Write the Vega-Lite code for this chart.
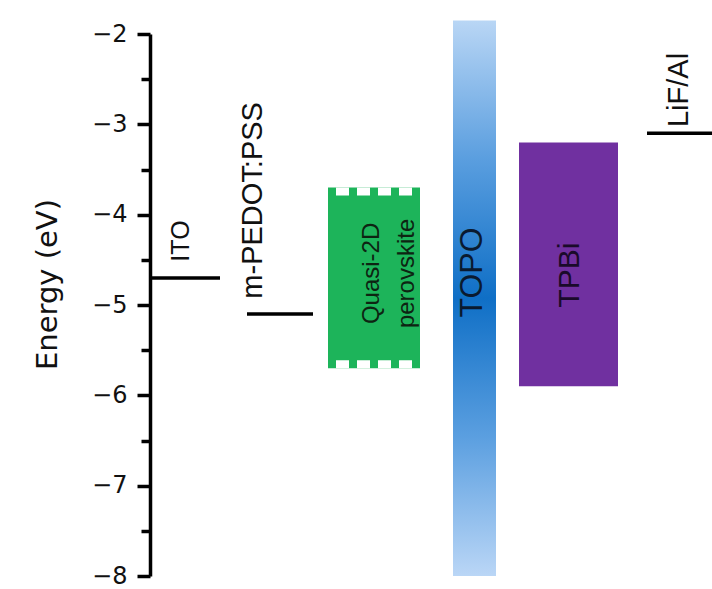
{
  "$schema": "https://vega.github.io/schema/vega-lite/v6.json",
  "width": 562,
  "height": 542,
  "autosize": {"type": "none"},
  "padding": {"left": 150, "top": 34, "right": 0, "bottom": 13},
  "background": "white",
  "config": {"view": {"stroke": null}, "font": "Liberation Sans"},
  "datasets": {
    "layers": [
      {"name": "ITO", "type": "electrode", "x": 0, "x2": 70, "top": -4.7, "bottom": -4.7},
      {"name": "m-PEDOT:PSS", "type": "electrode", "x": 97, "x2": 163, "top": -5.1, "bottom": -5.1},
      {"name": "Quasi-2D perovskite", "type": "emitter", "x": 178, "x2": 270, "top": -3.7, "bottom": -5.7},
      {"name": "TOPO", "type": "host", "x": 303, "x2": 346, "top": -1.85, "bottom": -8.0},
      {"name": "TPBi", "type": "etl", "x": 369, "x2": 468, "top": -3.2, "bottom": -5.9},
      {"name": "LiF/Al", "type": "electrode", "x": 497, "x2": 562, "top": -3.1, "bottom": -3.1}
    ],
    "labels": [
      {"text": "ITO", "group": "ito", "x": 31, "y": -4.52},
      {"text": "m-PEDOT:PSS", "group": "pedot", "x": 103, "y": -4.93},
      {"text": "LiF/Al", "group": "lif", "x": 529, "y": -3.03},
      {"text": "Quasi-2D\nperovskite", "group": "emitter", "x": 222, "y": -4.65},
      {"text": "TOPO", "group": "topo", "x": 322, "y": -4.64},
      {"text": "TPBi", "group": "tpbi", "x": 420, "y": -4.67}
    ]
  },
  "layer": [
    {
      "data": {"name": "layers"},
      "transform": [{"filter": "datum.type === 'host'"}],
      "mark": {
        "type": "rect",
        "color": {
          "gradient": "linear", "x1": 0, "y1": 0, "x2": 0, "y2": 1,
          "stops": [
            {"offset": 0, "color": "#b9d6f5"},
            {"offset": 0.25, "color": "#5a9edf"},
            {"offset": 0.5, "color": "#0f6fc6"},
            {"offset": 0.75, "color": "#5b9fe0"},
            {"offset": 1, "color": "#bad6f6"}
          ]
        }
      },
      "encoding": {
        "x": {"field": "x", "type": "quantitative", "scale": {"domain": [0, 562], "nice": false, "zero": false}, "axis": null},
        "x2": {"field": "x2"},
        "y": {
          "field": "top", "type": "quantitative",
          "scale": {"domain": [-8, -2], "nice": false, "zero": false},
          "axis": {
            "values": [-2, -2.5, -3, -3.5, -4, -4.5, -5, -5.5, -6, -6.5, -7, -7.5, -8],
            "labelExpr": "datum.value % 1 === 0 ? format(datum.value, 'd') : ''",
            "title": "Energy (eV)",
            "titleFont": "DejaVu Sans",
            "titleFontSize": 29,
            "titleFontWeight": "normal",
            "titleColor": "#111",
            "titleAngle": 270,
            "titleAlign": "center",
            "titleBaseline": "middle",
            "titleX": -103,
            "titleY": 250,
            "labelFont": "DejaVu Sans",
            "labelFontSize": 24,
            "labelColor": "#111",
            "labelPadding": 10,
            "labelFlush": false,
            "labelOverlap": false,
            "tickSize": {"condition": {"test": "datum.value % 1 !== 0", "value": 9}, "value": 13},
            "tickWidth": 3.5,
            "tickColor": "black",
            "domainWidth": 3.5,
            "domainColor": "black",
            "grid": false
          }
        },
        "y2": {"field": "bottom"}
      }
    },
    {
      "data": {"name": "layers"},
      "transform": [{"filter": "datum.type === 'emitter' || datum.type === 'etl'"}],
      "mark": {"type": "rect"},
      "encoding": {
        "x": {"field": "x", "type": "quantitative"},
        "x2": {"field": "x2"},
        "y": {"field": "top", "type": "quantitative"},
        "y2": {"field": "bottom"},
        "color": {
          "field": "name", "type": "nominal",
          "scale": {"domain": ["Quasi-2D perovskite", "TPBi"], "range": ["#1db45a", "#7030a0"]},
          "legend": null
        }
      }
    },
    {
      "data": {"name": "layers"},
      "transform": [{"filter": "datum.type === 'emitter'"}],
      "mark": {"type": "rule", "color": "white", "strokeWidth": 8, "strokeDash": [0, 8, 13, 0], "strokeCap": "butt", "yOffset": 4},
      "encoding": {
        "x": {"field": "x", "type": "quantitative"},
        "x2": {"field": "x2"},
        "y": {"field": "top", "type": "quantitative"}
      }
    },
    {
      "data": {"name": "layers"},
      "transform": [{"filter": "datum.type === 'emitter'"}],
      "mark": {"type": "rule", "color": "white", "strokeWidth": 8, "strokeDash": [0, 8, 13, 0], "strokeCap": "butt", "yOffset": -4},
      "encoding": {
        "x": {"field": "x", "type": "quantitative"},
        "x2": {"field": "x2"},
        "y": {"field": "bottom", "type": "quantitative"}
      }
    },
    {
      "data": {"name": "layers"},
      "transform": [{"filter": "datum.type === 'electrode'"}],
      "mark": {"type": "rule", "color": "black", "strokeWidth": 3.5, "strokeCap": "butt"},
      "encoding": {
        "x": {"field": "x", "type": "quantitative"},
        "x2": {"field": "x2"},
        "y": {"field": "top", "type": "quantitative"}
      }
    },
    {
      "data": {"name": "labels"},
      "transform": [{"filter": "datum.group === 'ito'"}],
      "mark": {"type": "text", "angle": 270, "align": "left", "baseline": "middle", "fontSize": 25, "font": "Liberation Sans", "color": "#111"},
      "encoding": {
        "x": {"field": "x", "type": "quantitative"},
        "y": {"field": "y", "type": "quantitative"},
        "text": {"field": "text", "type": "nominal"}
      }
    },
    {
      "data": {"name": "labels"},
      "transform": [{"filter": "datum.group === 'pedot'"}],
      "mark": {"type": "text", "angle": 270, "align": "left", "baseline": "middle", "fontSize": 29, "font": "Liberation Sans", "color": "#111"},
      "encoding": {
        "x": {"field": "x", "type": "quantitative"},
        "y": {"field": "y", "type": "quantitative"},
        "text": {"field": "text", "type": "nominal"}
      }
    },
    {
      "data": {"name": "labels"},
      "transform": [{"filter": "datum.group === 'lif'"}],
      "mark": {"type": "text", "angle": 270, "align": "left", "baseline": "middle", "fontSize": 29, "font": "Liberation Sans", "color": "#111"},
      "encoding": {
        "x": {"field": "x", "type": "quantitative"},
        "y": {"field": "y", "type": "quantitative"},
        "text": {"field": "text", "type": "nominal"}
      }
    },
    {
      "data": {"name": "labels"},
      "transform": [{"filter": "datum.group === 'emitter'"}],
      "mark": {"type": "text", "angle": 270, "align": "center", "baseline": "middle", "fontSize": 24, "lineHeight": 35, "lineBreak": "\n", "font": "Liberation Sans", "color": "#0d2412"},
      "encoding": {
        "x": {"field": "x", "type": "quantitative"},
        "y": {"field": "y", "type": "quantitative"},
        "text": {"field": "text", "type": "nominal"}
      }
    },
    {
      "data": {"name": "labels"},
      "transform": [{"filter": "datum.group === 'topo'"}],
      "mark": {"type": "text", "angle": 270, "align": "center", "baseline": "middle", "fontSize": 32, "font": "Liberation Sans", "color": "#0a1a30"},
      "encoding": {
        "x": {"field": "x", "type": "quantitative"},
        "y": {"field": "y", "type": "quantitative"},
        "text": {"field": "text", "type": "nominal"}
      }
    },
    {
      "data": {"name": "labels"},
      "transform": [{"filter": "datum.group === 'tpbi'"}],
      "mark": {"type": "text", "angle": 270, "align": "center", "baseline": "middle", "fontSize": 30, "font": "Liberation Sans", "color": "#1a0a2a"},
      "encoding": {
        "x": {"field": "x", "type": "quantitative"},
        "y": {"field": "y", "type": "quantitative"},
        "text": {"field": "text", "type": "nominal"}
      }
    }
  ]
}
